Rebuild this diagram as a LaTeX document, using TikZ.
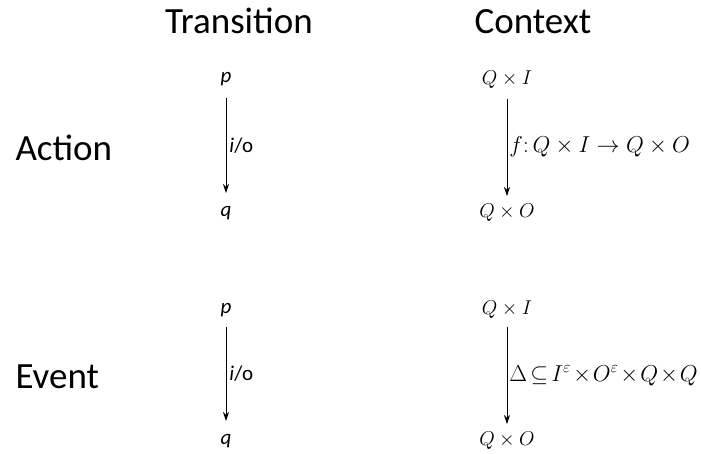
\RequirePackage{fix-cm}
\documentclass[tikz,border=0pt]{standalone}
\usepackage{fontspec}
\setmainfont{Carlito}
\usepackage{tikz}
\usetikzlibrary{arrows.meta, positioning}

\tikzset{
  head/.style={font=\fontsize{37}{40}\selectfont, anchor=base},
  row/.style={font=\fontsize{37}{40}\selectfont, anchor=base west},
  state/.style={font=\fontsize{21}{24}\selectfont, inner sep=2pt},
  trans/.style={-{Stealth[length=9pt, width=6pt]}, line width=0.9pt},
  lbl/.style={font=\fontsize{21}{24}\selectfont, right, inner sep=3pt},
  ctxlbl/.style={font=\fontsize{23}{26}\selectfont, right, inner sep=2pt}
}

\begin{document}
\begin{tikzpicture}[x=1pt, y=-1pt]
  \useasboundingbox (0,0) rectangle (701,453);

  % column and row headings
  \node[head] (transition) at (239,33) {Transition};
  \node[head] (context) at (533,33) {Context};
  \node[row] (action) at (12,160) {Action};
  \node[row] (event) at (12,388) {Event};

  % Action: transition
  \node[state] (p1) at (226,79) {\textit{p}};
  \node[state] (q1) at (226,213) {\textit{q}};
  \draw[trans] (226,98) -- (226,193) node[lbl, midway] (io1) {\textit{i}/o};
  % Action: context
  \node[state, font=\fontsize{20}{24}\selectfont] (qi1) at (507,80) {$Q\times I$};
  \node[state, font=\fontsize{20}{24}\selectfont] (qo1) at (507,213) {$Q\times O$};
  \draw[trans, shorten <=8pt, shorten >=6pt] (qi1) -- (qo1) node[ctxlbl, midway] (f1) {$f\colon Q\times I\to Q\times O$};

  % Event: transition
  \node[state] (p2) at (226,310) {\textit{p}};
  \node[state] (q2) at (226,441) {\textit{q}};
  \draw[trans] (226,327) -- (226,421) node[lbl, midway] (io2) {\textit{i}/o};
  % Event: context
  \node[state, font=\fontsize{20}{24}\selectfont] (qi2) at (507,310) {$Q\times I$};
  \node[state, font=\fontsize{20}{24}\selectfont] (qo2) at (507,441) {$Q\times O$};
  \draw[trans, shorten <=6pt, shorten >=6pt] (qi2) -- (qo2) node[ctxlbl, midway] (d2) {$\medmuskip=1.5mu \thickmuskip=2.5mu \Delta\subseteq I^{\varepsilon}\times O^{\varepsilon}\times Q\times Q$};
\end{tikzpicture}
\end{document}
